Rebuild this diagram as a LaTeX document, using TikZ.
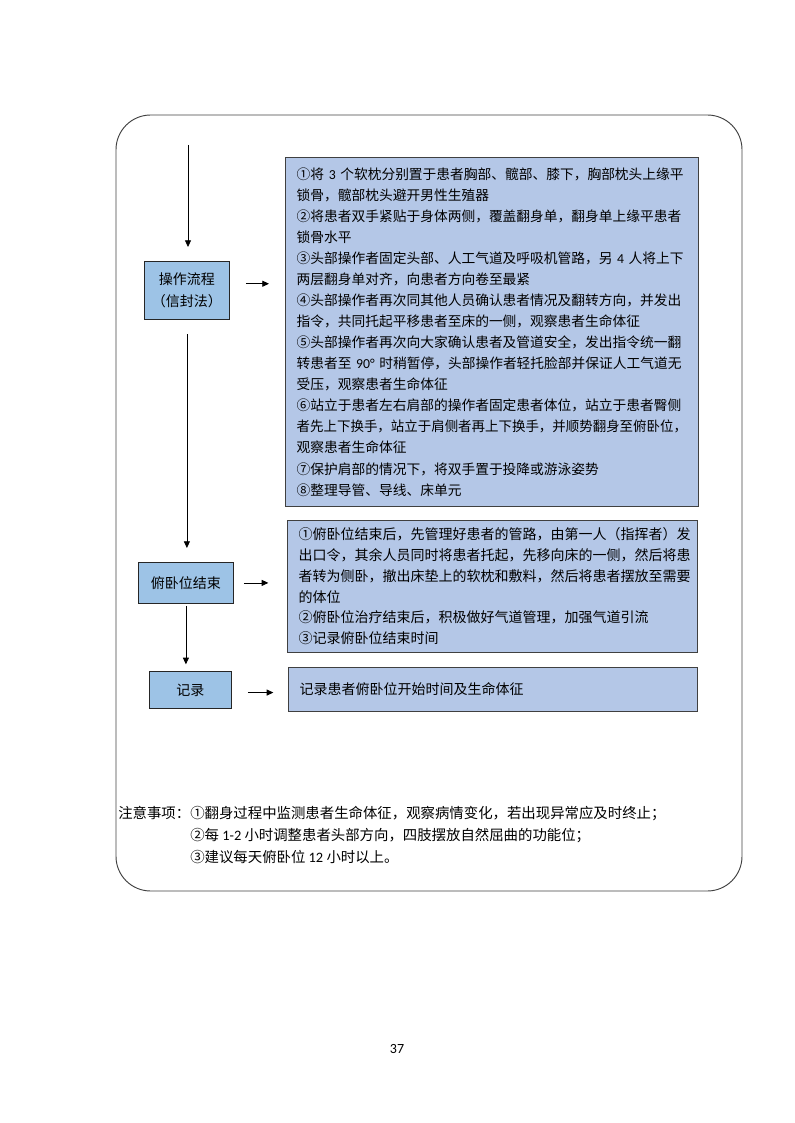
\documentclass[tikz,border=0pt]{standalone}
\usepackage{fontspec}
\usepackage{graphicx}
\setmainfont{Noto Sans CJK SC}
\newfontfamily\latinfont{Carlito}
\usetikzlibrary{arrows.meta}

\definecolor{stageblue}{HTML}{9DC3E6}
\definecolor{detailblue}{HTML}{B4C7E7}
\definecolor{framegray}{HTML}{404040}
\newcommand{\dig}[1]{{\latinfont #1}}

\begin{document}
\begin{tikzpicture}[
    x=0.75pt, y=-0.75pt,
    font=\fontsize{10.3pt}{15.8pt}\selectfont,
    >={Triangle[length=5pt,width=4.5pt]},
    stage/.style={
        rectangle, draw=black!85, line width=0.6pt,
        fill=stageblue,
        anchor=north west, inner sep=0pt,
        align=center, font=\fontsize{10.5pt}{16.5pt}\selectfont
    },
    detail/.style={
        rectangle, draw=framegray, line width=0.6pt,
        fill=detailblue,
        anchor=north west, inner xsep=8.5pt, inner ysep=0pt,
        align=left
    },
    arrow/.style={->, line width=0.6pt},
]
\useasboundingbox (0,0) rectangle (794,1123);

% ---------- Outer frame ----------
\draw[framegray, line width=0.7pt, rounded corners=26pt] (116,115) rectangle (742,891);

% ---------- Stages (left column) ----------
\coordinate (start) at (188,145);
\node[stage, minimum width=63.75pt, minimum height=43.5pt] (flow) at (144,261) {操作流程\\（信封法）};
\node[stage, minimum width=71.25pt, minimum height=30.75pt] (endb) at (138,562) {俯卧位结束};
\node[stage, minimum width=61.5pt, minimum height=27.75pt] (rec) at (149,671) {记录};

% ---------- Details (right column) ----------
\node[detail, text width=293pt, minimum height=261.75pt] (steps) at (285,157) {%
    ①将~\dig{3}~个软枕分别置于患者胸部、髋部、膝下，胸部枕头上缘平\\
    锁骨，髋部枕头避开男性生殖器\\
    ②将患者双手紧贴于身体两侧，覆盖翻身单，翻身单上缘平患者\\
    锁骨水平\\
    ③头部操作者固定头部、人工气道及呼吸机管路，另~\dig{4}~人将上下\\
    两层翻身单对齐，向患者方向卷至最紧\\
    ④头部操作者再次同其他人员确认患者情况及翻转方向，并发出\\
    指令，共同托起平移患者至床的一侧，观察患者生命体征\\
    ⑤头部操作者再次向大家确认患者及管道安全，发出指令统一翻\\
    转患者至~\dig{90°}~时稍暂停，头部操作者轻托脸部并保证人工气道无\\
    受压，观察患者生命体征\\
    ⑥站立于患者左右肩部的操作者固定患者体位，站立于患者臀侧\\
    \scalebox{0.98}[1]{者先上下换手，站立于肩侧者再上下换手，并顺势翻身至俯卧位，}\\
    观察患者生命体征\\
    ⑦保护肩部的情况下，将双手置于投降或游泳姿势\\
    ⑧整理导管、导线、床单元
};

\node[detail, text width=290.5pt, minimum height=99pt,
      font=\fontsize{10.5pt}{15.6pt}\selectfont] (finish) at (287,520) {%
    ①俯卧位结束后，先管理好患者的管路，由第一人（指挥者）发\\
    出口令，其余人员同时将患者托起，先移向床的一侧，然后将患\\
    者转为侧卧，撤出床垫上的软枕和敷料，然后将患者摆放至需要\\
    的体位\\
    ②俯卧位治疗结束后，积极做好气道管理，加强气道引流\\
    ③记录俯卧位结束时间
};

\node[detail, text width=289.75pt, minimum height=33pt,
      font=\fontsize{10.5pt}{15.6pt}\selectfont] (record) at (288,667) {%
    记录患者俯卧位开始时间及生命体征
};

% ---------- Notes ----------
\node[anchor=west, align=left, inner sep=0pt,
      font=\fontsize{10.8pt}{16.5pt}\selectfont] (notes) at (118,835) {%
    注意事项：①翻身过程中监测患者生命体征，观察病情变化，若出现异常应及时终止；\\
    \hspace*{54pt}②每 \dig{1-2} 小时调整患者头部方向，四肢摆放自然屈曲的功能位；\\
    \hspace*{54pt}③建议每天俯卧位 \dig{12} 小时以上。
};

\node[font=\latinfont\fontsize{10.5pt}{12pt}\selectfont] (pageno) at (397,1049) {37};

% ---------- Arrows ----------
\draw[arrow, shorten >=10.5pt] (start) -- (start |- flow.north);
\draw[arrow, shorten <=11pt, shorten >=10.5pt] (flow.south) -- (flow.south |- endb.north);
\draw[arrow, shorten <=1.5pt, shorten >=5pt] (endb.south) -- (endb.south |- rec.north);

\draw[arrow, shorten <=12pt, shorten >=12pt] ([yshift=5pt]flow.east) -- ([yshift=5pt]flow.east -| steps.west);
\draw[arrow, shorten <=7.5pt, shorten >=14pt] (endb.east) -- (endb.east -| finish.west);
\draw[arrow, shorten <=12pt, shorten >=11pt] ([yshift=-2pt]rec.east) -- ([yshift=-2pt]rec.east -| record.west);

\end{tikzpicture}
\end{document}
